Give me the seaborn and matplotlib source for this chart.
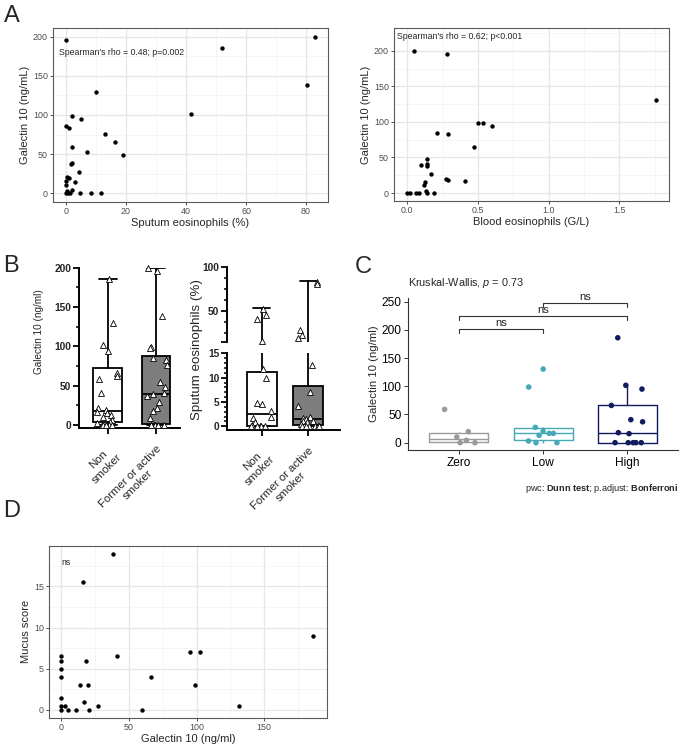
import numpy as np
import pandas as pd
import matplotlib
matplotlib.use("Agg")
import matplotlib.pyplot as plt
import seaborn as sns
from matplotlib.ticker import MultipleLocator, FixedLocator

# ---- Panel A data ----
sputum_eos = [0, 52.1, 83, 80.4, 41.6, 10.1, 2.1, 4.9, 0.1, 1.1, 13.1, 16.3, 2.0, 7.0, 19.1, 2.1,
              1.6, 4.3, 0.4, 1.1, 0, 3.1, 0, 2.1, 0, 0.3, 0.7, 1.3, 4.8, 8.2, 11.8]
gal_sputum = [195.7, 186.4, 200, 138, 101.7, 130, 98.7, 94.5, 85.5, 83.8, 76.2, 65.5, 59.1, 53.2, 48.1, 39.1,
              37.4, 27.2, 20.4, 19.6, 15.7, 13.6, 10.2, 4.3, 0, 2.6, 0, 0, 0, 0, 0]
blood_eos = [0.047, 0.278, 1.76, 0.498, 0.538, 0.597, 0.208, 0.288, 0.469, 0.137, 0.137, 0.097, 0.139,
             0.167, 0.274, 0.285, 0.408, 0.127, 0.118, 0.130, 0.142, 0, 0.017, 0.061, 0.085, 0.189]
gal_blood = [200, 195.3, 130.4, 98.6, 98.1, 94.9, 85, 83.6, 65.4, 48.1, 40.2, 39.7, 37.4,
             27.1, 20.1, 18.2, 16.8, 15.9, 10.7, 2.3, 0, 0, 0, 0, 0, 0]

# ---- Panel B data ----
smoke_groups = ["Non\nsmoker", "Former or active\nsmoker"]
gal_non = [186, 129, 101, 94, 66, 62, 58, 41, 21, 19, 16, 15, 13, 10, 6, 4, 2, 0, 0, 0, 0, 0, 0]
gal_former = [200, 196, 138, 99, 98, 85, 83, 76, 54, 48, 41, 39, 37, 29, 21, 17, 9,
              0, 0, 0, 0, 0, 0, 0, 0, 0]
# min, q1, median, q3, max as drawn in the box plots
gal_box_non = [0, 4, 17, 72, 186]
gal_box_former = [0, 1.5, 39, 88, 200]
sput_non = [52, 46, 41, 16, 11.7, 9.9, 4.8, 4.6, 3.1, 2.0, 1.8, 0.9, 0.3, 0, 0, 0, 0, 0]
sput_former = [83, 80, 28, 23, 19, 12.5, 7, 4.2, 2, 1.8, 1.5, 1, 1, 0.8, 0.5,
               0, 0, 0, 0, 0, 0, 0]
sput_box_non = [0, 0, 2.5, 11.2, 53]
sput_box_former = [0, 0.3, 1.5, 8.2, 84]

# ---- Panel C data ----
eos_levels = ["Zero", "Low", "High"]
gal_zero = [59, 19.5, 10, 4, 0, 0]
gal_low = [130.5, 98.6, 27.2, 20.1, 16.5, 16.5, 13, 3, 0, 0]
gal_high = [186, 101.7, 95, 66, 40.8, 37, 17.7, 16, 0, 0, 0, 0, 0]
level_colors = ["#9a9a9a", "#45a9b6", "#101c5e"]
pairs = [(0, 1), (0, 2), (1, 2)]
pair_y = [201, 224, 247]
pair_labels = ["ns", "ns", "ns"]

# ---- Panel D data ----
gal_mucus = [38.1, 16, 186, 95.2, 102.5, 41, 18.2, 66.1, 14, 19.9, 98.8, 17.2, 27.5, 131,
             0, 0, 0, 0, 0, 0, 3.2, 0, 4.9, 10.8, 20.7, 59.8]
mucus_score = [19, 15.5, 9, 7, 7, 6.5, 6, 4, 3, 3, 3, 1, 0.5, 0.5,
               6.5, 6, 5, 4, 1.5, 0.5, 0.5, 0, 0, 0, 0, 0]

sns.set_theme(style="white")
plt.rcParams['font.family'] = ['Liberation Sans', 'DejaVu Sans']
plt.rcParams['mathtext.fontset'] = 'custom'
plt.rcParams['mathtext.rm'] = 'Liberation Sans'
plt.rcParams['mathtext.it'] = 'Liberation Sans:italic'
plt.rcParams['mathtext.bf'] = 'Liberation Sans:bold'

W, H = 685, 748
fig = plt.figure(figsize=(W / 100, H / 100), dpi=100)


def box(x0, y0, x1, y1):
    # pixel box (left, top, right, bottom) -> figure fraction
    return [x0 / W, 1 - y1 / H, (x1 - x0) / W, (y1 - y0) / H]


def theme_bw(ax):
    ax.set_facecolor("white")
    for s in ax.spines.values():
        s.set_visible(True)
        s.set_color("#5a5a5a")
        s.set_linewidth(0.8)
    ax.grid(True, which="major", color="#e6e6e6", lw=0.9)
    ax.grid(True, which="minor", color="#f2f2f2", lw=0.5)
    ax.set_axisbelow(True)
    ax.tick_params(which="major", length=2.2, width=0.6, color="#333333", labelsize=6.4,
                   labelcolor="#4d4d4d", pad=1.5, left=True, bottom=True)
    ax.tick_params(which="minor", length=0)


# A left
ax = fig.add_axes(box(53, 28, 328, 202))
sns.scatterplot(x=sputum_eos, y=gal_sputum, color="black", s=10, linewidth=0, ax=ax)
ax.set_xlim(-4.3, 87.3)
ax.set_ylim(-11.5, 211.5)
ax.xaxis.set_major_locator(MultipleLocator(20))
ax.xaxis.set_minor_locator(MultipleLocator(10))
ax.yaxis.set_major_locator(MultipleLocator(50))
ax.yaxis.set_minor_locator(MultipleLocator(25))
theme_bw(ax)
ax.set_xlabel("Sputum eosinophils (%)", fontsize=8, labelpad=1.5)
ax.set_ylabel("Galectin 10 (ng/mL)", fontsize=8, labelpad=2)
ax.text(0.022, 0.86, "Spearman's rho = 0.48; p=0.002", transform=ax.transAxes, fontsize=6.3,
        va="center", ha="left")

# A right
ax = fig.add_axes(box(394, 28, 669, 201))
sns.scatterplot(x=blood_eos, y=gal_blood, color="black", s=10, linewidth=0, ax=ax)
ax.set_xlim(-0.094, 1.85)
ax.set_ylim(-11.2, 232)
ax.xaxis.set_major_locator(MultipleLocator(0.5))
ax.xaxis.set_minor_locator(MultipleLocator(0.25))
ax.yaxis.set_major_locator(MultipleLocator(50))
ax.yaxis.set_minor_locator(MultipleLocator(25))
theme_bw(ax)
ax.set_xlabel("Blood eosinophils (G/L)", fontsize=8, labelpad=1.5)
ax.set_ylabel("Galectin 10 (ng/mL)", fontsize=8, labelpad=2)
ax.text(0.012, 0.95, "Spearman's rho = 0.62; p<0.001", transform=ax.transAxes, fontsize=6.3,
        va="center", ha="left")


# B helpers
def prism_axes(ax, bottom=True):
    for side in ["top", "right"]:
        ax.spines[side].set_visible(False)
    ax.spines["left"].set_color("black")
    ax.spines["left"].set_linewidth(1.4)
    ax.spines["bottom"].set_visible(bottom)
    ax.spines["bottom"].set_color("black")
    ax.spines["bottom"].set_linewidth(1.4)
    ax.grid(False)
    ax.set_facecolor("none")
    ax.tick_params(axis="y", which="major", length=4, width=1.3, color="black", labelsize=7.4,
                   pad=1.5, left=True)
    ax.tick_params(axis="y", which="minor", length=2.5, width=1.1, color="black", left=True)
    for lab in ax.get_yticklabels():
        lab.set_fontweight("bold")
    if bottom:
        ax.tick_params(axis="x", length=4, width=1.3, color="black", labelsize=8.2, pad=7,
                       bottom=True)
    else:
        ax.tick_params(axis="x", bottom=False, labelbottom=False)
    ax.set_xlabel("")
    ax.set_ylabel("")


def draw_boxes(ax, stats5, colors, width):
    stats = []
    for s in stats5:
        stats.append(dict(whislo=s[0], q1=s[1], med=s[2], q3=s[3], whishi=s[4]))
    bp = ax.bxp(stats, positions=[0, 1], widths=width, capwidths=0.36, showfliers=False,
                patch_artist=True, manage_ticks=False,
                boxprops=dict(edgecolor="black", linewidth=1.3),
                medianprops=dict(color="black", linewidth=1.3),
                whiskerprops=dict(color="black", linewidth=1.3),
                capprops=dict(color="black", linewidth=1.3))
    for patch, c in zip(bp["boxes"], colors):
        patch.set_facecolor(c)


def draw_triangles(ax, a, b, keep):
    df = pd.DataFrame({"grp": [smoke_groups[0]] * len(a) + [smoke_groups[1]] * len(b),
                       "val": list(a) + list(b)})
    df = df[df["val"].apply(keep)]
    np.random.seed(3)
    sns.stripplot(data=df, x="grp", y="val", order=smoke_groups, marker="^", color="white",
                  edgecolor="black", linewidth=0.6, size=4.3, jitter=0.24, zorder=4,
                  clip_on=False, ax=ax)


box_fill = ["white", "#7d7d7d"]

# B left
ax = fig.add_axes(box(79, 267.7, 180, 428))
draw_boxes(ax, [gal_box_non, gal_box_former], box_fill, 0.6)
draw_triangles(ax, gal_non, gal_former, lambda v: True)
ax.set_xlim(-0.6, 1.5)
ax.set_ylim(-4, 200)
ax.yaxis.set_major_locator(MultipleLocator(50))
ax.yaxis.set_minor_locator(MultipleLocator(25))
ax.set_xticks([0, 1])
ax.set_xticklabels(smoke_groups, rotation=45, ha="right", rotation_mode="anchor",
                   multialignment="center")
prism_axes(ax)
fig.text(39 / W, 1 - 332 / H, "Galectin 10 (ng/ml)", rotation=90, ha="center", va="center",
         fontsize=7.2)

# B right, broken axis
ax_lo = fig.add_axes(box(227, 353.3, 340, 430))
draw_boxes(ax_lo, [sput_box_non, sput_box_former], box_fill, 0.64)
draw_triangles(ax_lo, sput_non, sput_former, lambda v: v < 15)
ax_lo.set_xlim(-0.745, 1.68)
ax_lo.set_ylim(-0.75, 15)
ax_lo.yaxis.set_major_locator(MultipleLocator(5))
ax_lo.yaxis.set_minor_locator(MultipleLocator(1))
ax_lo.set_xticks([0, 1])
ax_lo.set_xticklabels(smoke_groups, rotation=45, ha="right", rotation_mode="anchor",
                      multialignment="center")
prism_axes(ax_lo)

ax_hi = fig.add_axes(box(227, 266.7, 340, 342))
draw_boxes(ax_hi, [sput_box_non, sput_box_former], box_fill, 0.64)
draw_triangles(ax_hi, sput_non, sput_former, lambda v: v >= 15)
ax_hi.set_xlim(-0.745, 1.68)
ax_hi.set_ylim(15, 100)
ax_hi.yaxis.set_major_locator(FixedLocator([15, 50, 100]))
ax_hi.yaxis.set_minor_locator(FixedLocator([25, 37.5, 62.5, 75, 87.5]))
ax_hi.set_yticklabels(["", "50", "100"])
prism_axes(ax_hi, bottom=False)
fig.text(197 / W, 1 - 349 / H, "Sputum eosinophils (%)", rotation=90, ha="center", va="center",
         fontsize=9.6)

# C
dfc = pd.DataFrame({"level": ["Zero"] * len(gal_zero) + ["Low"] * len(gal_low) + ["High"] * len(gal_high),
                    "gal": gal_zero + gal_low + gal_high})
ax = fig.add_axes(box(408.3, 297.7, 678, 450))
sns.boxplot(data=dfc, x="level", y="gal", hue="level", order=eos_levels, hue_order=eos_levels,
            palette=level_colors, fill=False, width=0.7, linewidth=1.0, showfliers=False,
            showcaps=False, legend=False, ax=ax)
np.random.seed(7)
sns.stripplot(data=dfc, x="level", y="gal", hue="level", order=eos_levels, hue_order=eos_levels,
              palette=level_colors, size=4, jitter=0.2, linewidth=0, legend=False, ax=ax)
ax.set_xlim(-0.6, 2.6)
ax.set_ylim(-13, 257)
ax.yaxis.set_major_locator(MultipleLocator(50))
for side in ["top", "right"]:
    ax.spines[side].set_visible(False)
for side in ["left", "bottom"]:
    ax.spines[side].set_color("#333333")
    ax.spines[side].set_linewidth(0.8)
ax.grid(False)
ax.tick_params(which="major", length=3, width=0.7, color="#333333", labelsize=8.6,
               labelcolor="black", pad=2, left=True, bottom=True)
ax.set_xlabel("")
ax.set_ylabel("Galectin 10 (ng/ml)", fontsize=8.2, labelpad=2)
for (i, j), y, lab in zip(pairs, pair_y, pair_labels):
    ax.plot([i, i, j, j], [y - 7, y, y, y - 7], color="#333333", lw=0.8)
    ax.text((i + j) / 2, y + 1.5, lab, ha="center", va="bottom", fontsize=8, color="#222222")
ax.text(0, 1.097, "Kruskal-Wallis, $\\it{p}$ = 0.73", transform=ax.transAxes, fontsize=7.8,
        ha="left", va="center")
fig.text(679 / W, 1 - 489 / H, "pwc: $\\bf{Dunn\\ test}$; p.adjust: $\\bf{Bonferroni}$",
         ha="right", va="center", fontsize=6.6)

# D
ax = fig.add_axes(box(49, 545.7, 327, 717.7))
sns.scatterplot(x=gal_mucus, y=mucus_score, color="black", s=10, linewidth=0, ax=ax)
ax.set_xlim(-8.9, 196.3)
ax.set_ylim(-0.95, 19.95)
ax.xaxis.set_major_locator(MultipleLocator(50))
ax.xaxis.set_minor_locator(MultipleLocator(25))
ax.yaxis.set_major_locator(MultipleLocator(5))
ax.yaxis.set_minor_locator(MultipleLocator(2.5))
theme_bw(ax)
ax.set_xlabel("Galectin 10 (ng/ml)", fontsize=8, labelpad=1.5)
ax.set_ylabel("Mucus score", fontsize=8, labelpad=2)
ax.text(0.5, 17.9, "ns", fontsize=6.3, ha="left", va="center")

# panel letters
for lab, x, y in [("A", 4, 16), ("B", 3, 266), ("C", 355, 267), ("D", 3, 511)]:
    fig.text(x / W, 1 - y / H, lab, fontsize=17, ha="left", va="center")

fig.savefig("out.png", dpi=100)
